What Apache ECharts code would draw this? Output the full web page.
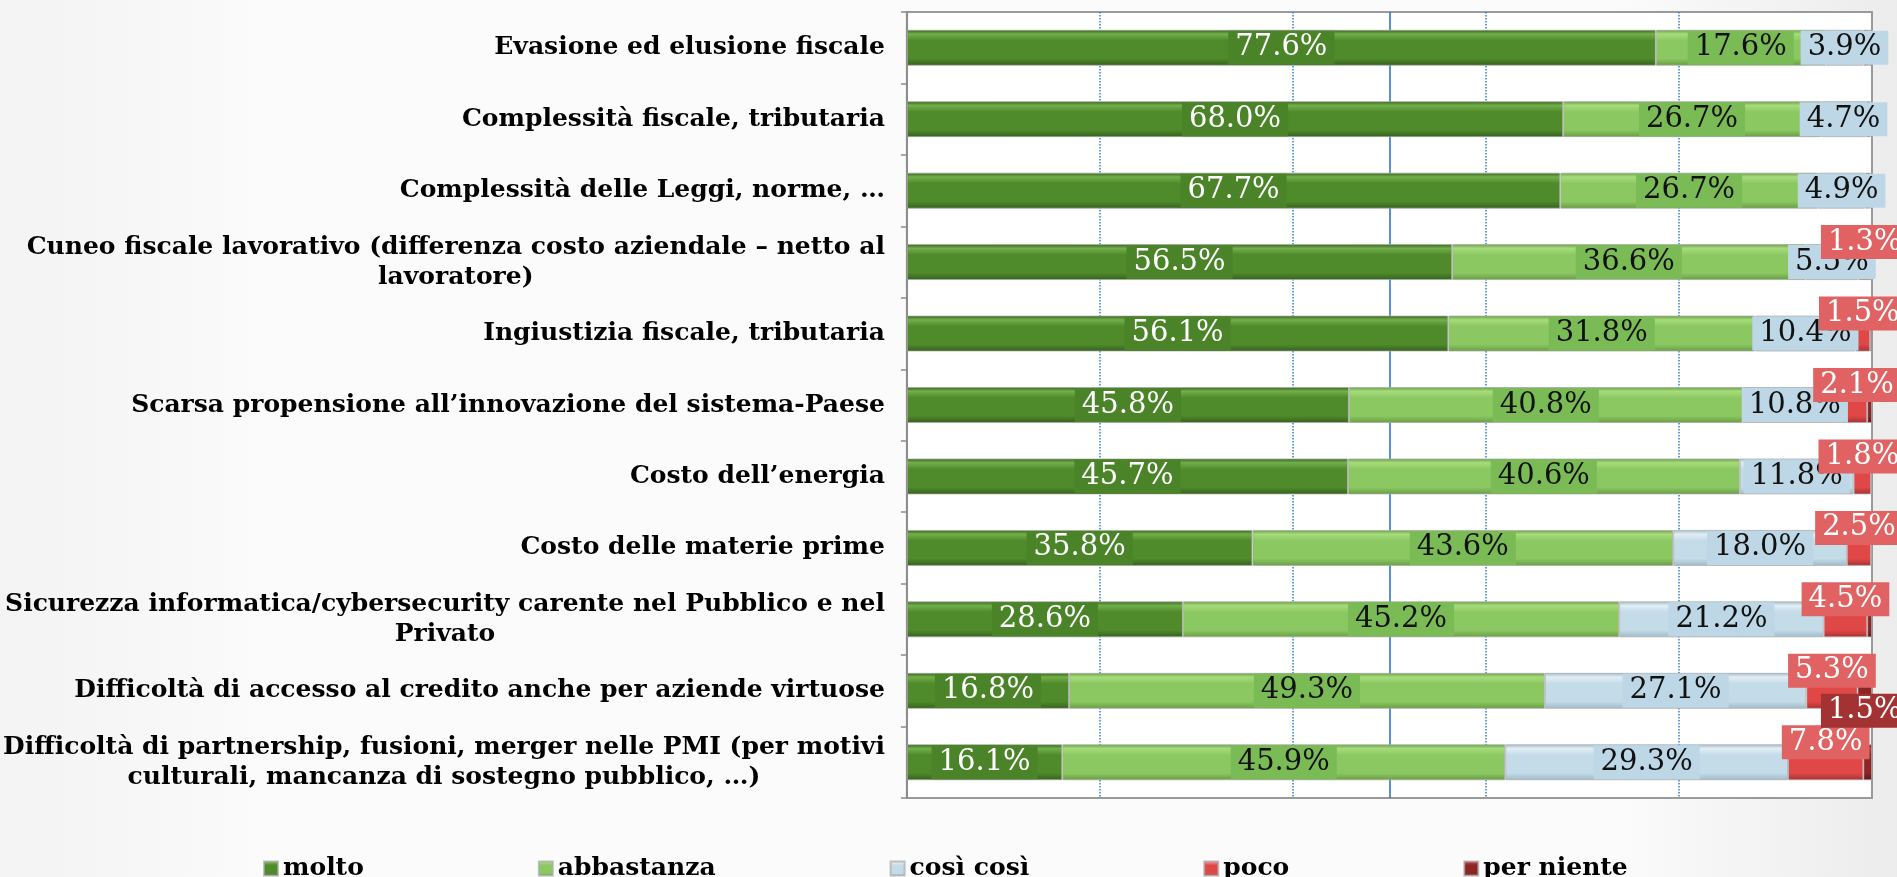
<!DOCTYPE html>
<html>
<head>
<meta charset="utf-8">
<script src="https://cdn.jsdelivr.net/npm/echarts@6/dist/echarts.min.js"></script>
<style>
  html, body { margin: 0; padding: 0; }
  #main { width: 1897px; height: 877px; }
</style>
</head>
<body>
<div id="main"></div>
<script>
var categories = [
  "Evasione ed elusione fiscale",
  "Complessità fiscale, tributaria",
  "Complessità delle Leggi, norme, …",
  "Cuneo fiscale lavorativo (differenza costo aziendale – netto al\nlavoratore)",
  "Ingiustizia fiscale, tributaria",
  "Scarsa propensione all’innovazione del sistema-Paese",
  "Costo dell’energia",
  "Costo delle materie prime",
  "Sicurezza informatica/cybersecurity carente nel Pubblico e nel\nPrivato",
  "Difficoltà di accesso al credito anche per aziende virtuose",
  "Difficoltà di partnership, fusioni, merger nelle PMI (per motivi\nculturali, mancanza di sostegno pubblico, …)"
];
var molto      = [77.6, 68.0, 67.7, 56.5, 56.1, 45.8, 45.7, 35.8, 28.6, 16.8, 16.1];
var abbastanza = [17.6, 26.7, 26.7, 36.6, 31.8, 40.8, 40.6, 43.6, 45.2, 49.3, 45.9];
var cosiCosi   = [3.9, 4.7, 4.9, 5.5, 10.4, 10.8, 11.8, 18.0, 21.2, 27.1, 29.3];
var poco       = [0.6, 0.4, 0.5, 1.3, 1.5, 2.1, 1.8, 2.5, 4.5, 5.3, 7.8];
var perNiente  = [0.3, 0.2, 0.2, 0.1, 0.2, 0.5, 0.1, 0.1, 0.5, 1.5, 0.9];
var seriesNames = ["molto", "abbastanza", "così così", "poco", "per niente"];

var myChart = echarts.init(document.getElementById("main"));

function bevel(light, main, dark) {
  return new echarts.graphic.LinearGradient(0, 0, 0, 1, [
    { offset: 0, color: dark },
    { offset: 0.12, color: light },
    { offset: 0.3, color: main },
    { offset: 0.8, color: main },
    { offset: 1, color: dark }
  ]);
}

function makeSeries(name, values, fill, labelBg, labelColor, offset) {
  return {
    name: name,
    type: "bar",
    stack: "tot",
    barWidth: 36,
    itemStyle: {
      color: fill,
      borderColor: "rgba(170,170,170,0.7)",
      borderWidth: 1
    },
    label: {
      show: true,
      position: "inside",
      offset: offset,
      formatter: function (p) {
        return p.value.toFixed(1) + "%";
      },
      fontFamily: "DejaVu Serif",
      fontSize: 29,
      lineHeight: 30,
      color: labelColor,
      backgroundColor: labelBg,
      padding: [2, 7]
    },
    data: values.map(function (v) {
      // piccoli spicchi senza etichetta
      return v < 1 ? { value: v, label: { show: false } } : v;
    })
  };
}

var catFont = {
  fontFamily: "DejaVu Serif",
  fontWeight: "bold",
  fontSize: 25,
  color: "#000",
  align: "center",
  lineHeight: 30
};

var option = {
  backgroundColor: new echarts.graphic.LinearGradient(0, 0, 1, 0, [
    { offset: 0, color: "#f3f3f3" },
    { offset: 0.15, color: "#fbfbfb" },
    { offset: 0.85, color: "#fbfbfb" },
    { offset: 1, color: "#ececec" }
  ]),
  animation: false,
  legend: {
    data: seriesNames,
    left: 258,
    top: 851,
    icon: "rect",
    itemWidth: 14,
    itemHeight: 14,
    itemGap: 174,
    textStyle: {
      fontFamily: "DejaVu Serif",
      fontWeight: "bold",
      fontSize: 25,
      color: "#000"
    }
  },
  grid: {
    left: 905,
    right: 25,
    top: 12,
    bottom: 79,
    show: true,
    backgroundColor: "#fff",
    borderColor: "#9a9a9a",
    borderWidth: 2
  },
  xAxis: [
    {
      type: "value",
      min: 0,
      max: 100,
      interval: 20,
      axisLabel: { show: false },
      axisLine: { show: false },
      axisTick: { show: false },
      splitLine: {
        show: true,
        showMinLine: false,
        showMaxLine: false,
        lineStyle: { color: "#2f7fd0", type: "dotted", width: 1.5 }
      }
    },
    {
      type: "value",
      position: "top",
      min: 0,
      max: 100,
      interval: 50,
      axisLabel: { show: false },
      axisLine: { show: false },
      axisTick: { show: false },
      splitLine: {
        show: true,
        showMinLine: false,
        showMaxLine: false,
        lineStyle: { color: "#1f6fc4", type: "solid", width: 1.5 }
      }
    }
  ],
  yAxis: {
    type: "category",
    inverse: true,
    data: categories,
    axisLine: { show: true, lineStyle: { color: "#8c8c8c", width: 2 } },
    axisTick: { show: true, length: 6, lineStyle: { color: "#8c8c8c", width: 1.5 } },
    axisLabel: {
      margin: 22,
      align: "right",
      formatter: function (v) {
        return v.split("\n").map(function (s) { return "{c|" + s + "}"; }).join("\n");
      },
      rich: { c: catFont }
    }
  },
  series: [
    makeSeries("molto", molto, bevel("#72b04a", "#4f8a2b", "#35601c"), "#4b8428", "#fff", [0, 0]),
    makeSeries("abbastanza", abbastanza, bevel("#a6dc7c", "#8cc862", "#679c43"), "#7bbb56", "#111", [0, 0]),
    makeSeries("così così", cosiCosi, bevel("#e2eef5", "#c4dbe8", "#9fb9c8"), "#bed7e6", "#111", [0, 0]),
    makeSeries("poco", poco, bevel("#f58080", "#e04848", "#a83030"), "#e06262", "#fff", [0, -20]),
    makeSeries("per niente", perNiente, bevel("#b84040", "#8e2424", "#5e1515"), "#a33333", "#fff", [0, 20])
  ]
};

myChart.setOption(option);
</script>
</body>
</html>
